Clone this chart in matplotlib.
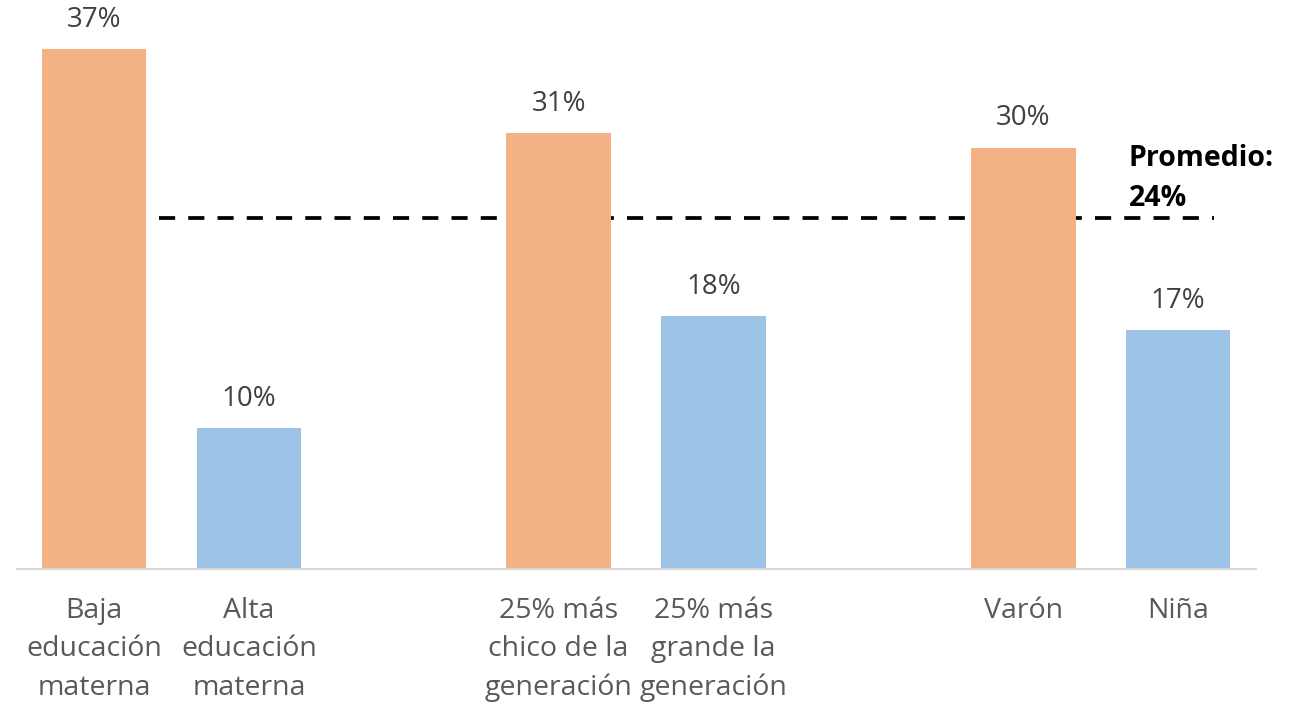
import matplotlib.pyplot as plt

plt.rcParams['font.family'] = ['Open Sans', 'DejaVu Sans']

categorias = ['Baja\neducación\nmaterna', 'Alta\neducación\nmaterna', '',
              '25% más\nchico de la\ngeneración', '25% más\ngrande la\ngeneración', '',
              'Varón', 'Niña']
valores = [37, 10, None, 31, 18, None, 30, 17]
colores = ['#F4B183', '#9DC3E6', None, '#F4B183', '#9DC3E6', None, '#F4B183', '#9DC3E6']
promedio_linea = 25
promedio_texto = 'Promedio:\n24%'

fig = plt.figure(figsize=(12.96, 7.05), dpi=100)
ax = fig.add_axes([0.0128, 0.193, 0.956, 0.797])

pos = [i for i, v in enumerate(valores) if v is not None]
vals = [valores[i] for i in pos]
cols = [colores[i] for i in pos]
bars = ax.bar(pos, vals, width=0.675, color=cols, zorder=2)
for b, v in zip(bars, vals):
    ax.annotate(f'{v}%', (b.get_x() + b.get_width() / 2, v), xytext=(0, 21),
                textcoords='offset points', ha='center', va='center',
                fontsize=20, color='#404040')

# linea del promedio (detras de las barras)
ax.plot([0.42, 7.23], [promedio_linea, promedio_linea], color='black', lw=2.7,
        ls=(0, (4.3, 3.5)), zorder=1)
ax.text(6.68, 27.8, promedio_texto, ha='left', va='center', fontsize=20.5,
        fontweight='bold', color='black', linespacing=1.5)

ax.set_xlim(-0.5, 7.5)
ax.set_ylim(0, 40)
ax.set_xticks(range(len(categorias)))
ax.set_xticklabels(categorias, fontsize=20.5, color='#595959', linespacing=1.5)
ax.tick_params(axis='x', length=0, pad=20)
ax.set_yticks([])
for s in ['top', 'right', 'left']:
    ax.spines[s].set_visible(False)
ax.spines['bottom'].set_color('#D9D9D9')
ax.spines['bottom'].set_linewidth(1.5)

fig.savefig('out.png', dpi=100)
